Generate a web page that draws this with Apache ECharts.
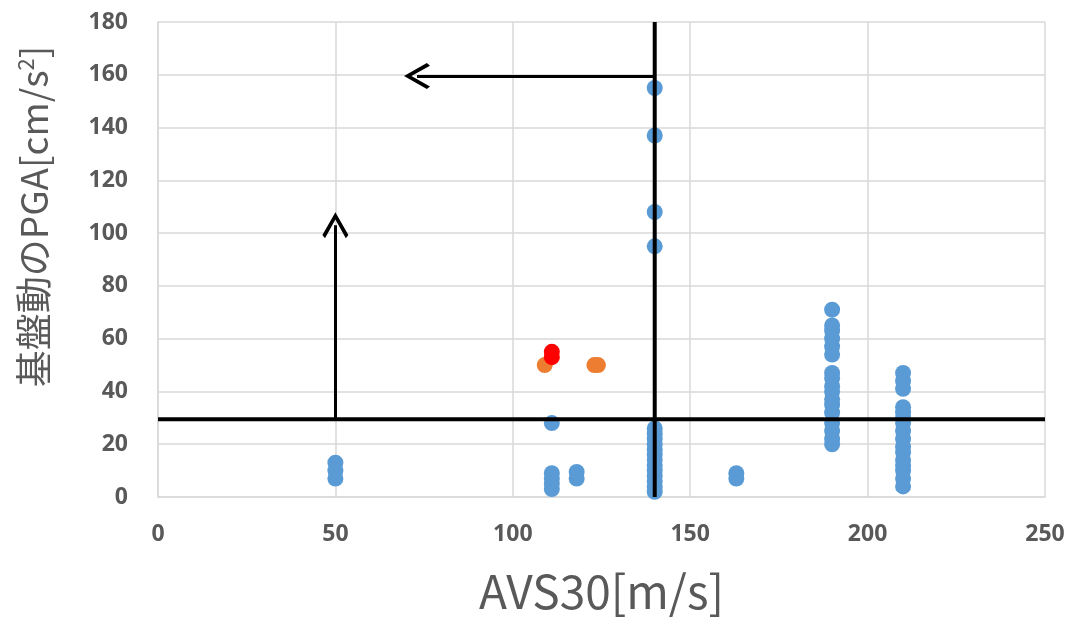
<!DOCTYPE html>
<html><head><meta charset="utf-8">
<script src="https://cdn.jsdelivr.net/npm/echarts@6/dist/echarts.min.js"></script>
<style>html,body{margin:0;padding:0;background:#fff}#c{width:1079px;height:623px}</style>
</head><body><div id="c"></div>
<script>
// Data
const blueX = [50,50,50, 111,111,111,111,111, 118,118,
  140,140,140,140, 140,140,140,140,140,140,140,140,140,140,140,140,140,
  163,163,
  190,190,190,190,190,190,190,190,190,190,190,190,190,190,190,190,190,
  210,210,210,210,210,210,210,210,210,210,210,210,210,210,210,210];
const blueY = [7,10,13, 28,3,5,7,9, 7,9.5,
  155,137,108,95, 2,4,6,8,10,12,14,16,18,20,22,24,26,
  7,9,
  71,65,63,60,57,54,47,45,42,40,37,35,32,28,25,22,20,
  47,44,41,34,32,30,28,25,22,19,17,14,12,10,7,4];
const orangeX = [109,123,124];
const orangeY = [50,50,50];
const redX = [111,111];
const redY = [53,55];
// reference lines: horizontal y=30, vertical x=140
const hLineY = 29.5, vLineX = 140;
// arrows: [from, to] (arrowhead is centred on the end point)
const arrowH = [[140,159.5],[73,159.5]];
const arrowV = [[50,29.5],[50,103]];
const xTicks = {min:0,max:250,interval:50};
const yTicks = {min:0,max:180,interval:20};

const zip = (a,b)=>a.map((v,i)=>[v,b[i]]);
const gray = '#595959';
const chevron = 'path://M0,0 L11,13 L8.8,14.8 L0,4.2 L-8.8,14.8 L-11,13 Z';
const chart = echarts.init(document.getElementById('c'));
chart.setOption({
  animation:false,
  backgroundColor:'#fff',
  grid:{left:158,right:34,top:22,bottom:126},
  xAxis:{type:'value',min:xTicks.min,max:xTicks.max,interval:xTicks.interval,
    name:'AVS30[m/s]',nameLocation:'middle',nameGap:72,
    nameTextStyle:{fontFamily:'Noto Sans CJK JP',fontSize:46,color:gray},
    axisLine:{show:true,lineStyle:{color:'#d9d9d9',width:1.5}},axisTick:{show:false},
    axisLabel:{margin:26,fontFamily:'Open Sans',fontWeight:'bold',fontSize:23,color:gray},
    splitLine:{show:true,lineStyle:{color:'#d9d9d9',width:1.5}}},
  yAxis:{type:'value',min:yTicks.min,max:yTicks.max,interval:yTicks.interval,
    name:'基盤動のPGA[cm/s{s|2}]',nameLocation:'middle',nameGap:106,
    nameTextStyle:{fontFamily:'Noto Sans CJK JP',fontSize:37,color:gray,padding:[0,0,0,86],
      rich:{s:{fontFamily:'Noto Sans CJK JP',fontSize:22,color:gray,verticalAlign:'top',padding:[0,0,14,0]}}},
    axisLine:{show:true,lineStyle:{color:'#d9d9d9',width:1.5}},axisTick:{show:false},
    axisLabel:{margin:30,fontFamily:'Open Sans',fontWeight:'bold',fontSize:23,color:gray},
    splitLine:{show:true,lineStyle:{color:'#d9d9d9',width:1.5}}},
  series:[
    {type:'scatter',data:zip(blueX,blueY),symbolSize:16,itemStyle:{color:'#5B9BD5',opacity:1},z:3},
    {type:'scatter',data:zip(orangeX,orangeY),symbolSize:16,itemStyle:{color:'#ED7D31',opacity:1},z:3},
    {type:'scatter',data:zip(redX,redY),symbolSize:16,itemStyle:{color:'#FF0000',opacity:1},z:3},
    {type:'line',data:[[xTicks.min,hLineY],[xTicks.max,hLineY]],symbol:'none',lineStyle:{color:'#000',width:4},z:4},
    {type:'line',data:[[vLineX,yTicks.min],[vLineX,yTicks.max]],symbol:'none',lineStyle:{color:'#000',width:4},z:4},
    {type:'lines',coordinateSystem:'cartesian2d',z:4,
      symbol:['none',chevron],symbolSize:[22,26],
      lineStyle:{color:'#000',width:3,opacity:1},
      data:[{coords:arrowH},{coords:arrowV}]}
  ]
});
</script></body></html>
